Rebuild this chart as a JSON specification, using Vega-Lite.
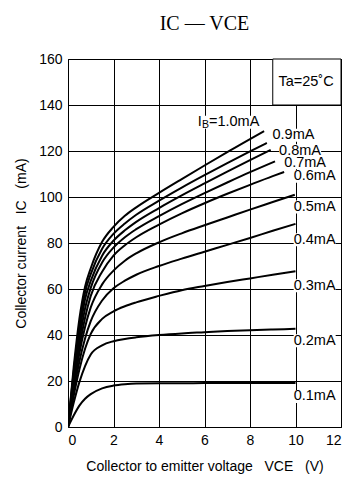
{
  "$schema": "https://vega.github.io/schema/vega-lite/v6.json",
  "width": 273,
  "height": 368,
  "autosize": {"type": "none"},
  "padding": {"left": 68, "top": 59, "right": 12, "bottom": 53},
  "background": "white",
  "title": {
    "text": "IC — VCE",
    "font": "Liberation Serif",
    "fontSize": 20,
    "fontWeight": "normal",
    "color": "black",
    "anchor": "middle",
    "offset": 18
  },
  "config": {
    "view": {"stroke": "black", "strokeWidth": 1},
    "axis": {
      "grid": true,
      "gridColor": "black",
      "gridOpacity": 1,
      "gridWidth": 1,
      "domain": false,
      "ticks": false,
      "labelFont": "Liberation Sans",
      "labelFontSize": 14,
      "labelColor": "black",
      "labelPadding": 6,
      "titleFont": "Liberation Sans",
      "titleFontSize": 14,
      "titleFontWeight": "normal",
      "titleColor": "black"
    },
    "text": {"font": "Liberation Sans", "fontSize": 14.5, "color": "black"}
  },
  "datasets": {
    "curves": [
      {"ib": "1.0", "v": 0, "i": 0}, {"ib": "1.0", "v": 0.25, "i": 26}, {"ib": "1.0", "v": 0.5, "i": 47}, {"ib": "1.0", "v": 0.75, "i": 61}, {"ib": "1.0", "v": 1, "i": 69}, {"ib": "1.0", "v": 1.5, "i": 80.5}, {"ib": "1.0", "v": 2, "i": 87}, {"ib": "1.0", "v": 2.5, "i": 91.8}, {"ib": "1.0", "v": 3, "i": 95.5}, {"ib": "1.0", "v": 4, "i": 101.8}, {"ib": "1.0", "v": 5, "i": 107.8}, {"ib": "1.0", "v": 6, "i": 113.7}, {"ib": "1.0", "v": 7, "i": 119.5}, {"ib": "1.0", "v": 8, "i": 125.2}, {"ib": "1.0", "v": 8.62, "i": 128.6},
      {"ib": "0.9", "v": 0, "i": 0}, {"ib": "0.9", "v": 0.25, "i": 24}, {"ib": "0.9", "v": 0.5, "i": 43.5}, {"ib": "0.9", "v": 0.75, "i": 58.5}, {"ib": "0.9", "v": 1, "i": 66.5}, {"ib": "0.9", "v": 1.5, "i": 77.5}, {"ib": "0.9", "v": 2, "i": 84}, {"ib": "0.9", "v": 2.5, "i": 88.5}, {"ib": "0.9", "v": 3, "i": 92.3}, {"ib": "0.9", "v": 4, "i": 98.4}, {"ib": "0.9", "v": 5, "i": 104.1}, {"ib": "0.9", "v": 6, "i": 109.5}, {"ib": "0.9", "v": 7, "i": 114.7}, {"ib": "0.9", "v": 8, "i": 119.8}, {"ib": "0.9", "v": 8.74, "i": 123.5},
      {"ib": "0.8", "v": 0, "i": 0}, {"ib": "0.8", "v": 0.25, "i": 22}, {"ib": "0.8", "v": 0.5, "i": 40.5}, {"ib": "0.8", "v": 0.75, "i": 55.5}, {"ib": "0.8", "v": 1, "i": 63.5}, {"ib": "0.8", "v": 1.5, "i": 74.5}, {"ib": "0.8", "v": 2, "i": 81}, {"ib": "0.8", "v": 2.5, "i": 85.5}, {"ib": "0.8", "v": 3, "i": 89.2}, {"ib": "0.8", "v": 4, "i": 95.2}, {"ib": "0.8", "v": 5, "i": 100.7}, {"ib": "0.8", "v": 6, "i": 105.9}, {"ib": "0.8", "v": 7, "i": 111}, {"ib": "0.8", "v": 8, "i": 116}, {"ib": "0.8", "v": 8.91, "i": 120.5},
      {"ib": "0.7", "v": 0, "i": 0}, {"ib": "0.7", "v": 0.25, "i": 20}, {"ib": "0.7", "v": 0.5, "i": 37.5}, {"ib": "0.7", "v": 0.75, "i": 51.5}, {"ib": "0.7", "v": 1, "i": 60.5}, {"ib": "0.7", "v": 1.5, "i": 71.5}, {"ib": "0.7", "v": 2, "i": 78}, {"ib": "0.7", "v": 2.5, "i": 82.5}, {"ib": "0.7", "v": 3, "i": 86}, {"ib": "0.7", "v": 4, "i": 91.7}, {"ib": "0.7", "v": 5, "i": 96.9}, {"ib": "0.7", "v": 6, "i": 101.7}, {"ib": "0.7", "v": 7, "i": 106.3}, {"ib": "0.7", "v": 8, "i": 110.8}, {"ib": "0.7", "v": 9.1, "i": 115.5},
      {"ib": "0.6", "v": 0, "i": 0}, {"ib": "0.6", "v": 0.25, "i": 18.5}, {"ib": "0.6", "v": 0.5, "i": 34.5}, {"ib": "0.6", "v": 0.75, "i": 47.5}, {"ib": "0.6", "v": 1, "i": 57}, {"ib": "0.6", "v": 1.5, "i": 67.5}, {"ib": "0.6", "v": 2, "i": 74.5}, {"ib": "0.6", "v": 2.5, "i": 79}, {"ib": "0.6", "v": 3, "i": 82.5}, {"ib": "0.6", "v": 4, "i": 88}, {"ib": "0.6", "v": 5, "i": 92.9}, {"ib": "0.6", "v": 6, "i": 97.3}, {"ib": "0.6", "v": 7, "i": 101.4}, {"ib": "0.6", "v": 8, "i": 105.3}, {"ib": "0.6", "v": 9, "i": 109.1}, {"ib": "0.6", "v": 9.5, "i": 110.9},
      {"ib": "0.5", "v": 0, "i": 0}, {"ib": "0.5", "v": 0.25, "i": 17}, {"ib": "0.5", "v": 0.5, "i": 32}, {"ib": "0.5", "v": 0.75, "i": 43.5}, {"ib": "0.5", "v": 1, "i": 52}, {"ib": "0.5", "v": 1.5, "i": 62}, {"ib": "0.5", "v": 2, "i": 68}, {"ib": "0.5", "v": 2.5, "i": 72.3}, {"ib": "0.5", "v": 3, "i": 75.5}, {"ib": "0.5", "v": 4, "i": 80.3}, {"ib": "0.5", "v": 5, "i": 84.2}, {"ib": "0.5", "v": 6, "i": 87.7}, {"ib": "0.5", "v": 7, "i": 91.1}, {"ib": "0.5", "v": 8, "i": 94.5}, {"ib": "0.5", "v": 9, "i": 97.8}, {"ib": "0.5", "v": 9.97, "i": 101},
      {"ib": "0.4", "v": 0, "i": 0}, {"ib": "0.4", "v": 0.25, "i": 15.5}, {"ib": "0.4", "v": 0.5, "i": 28.5}, {"ib": "0.4", "v": 0.75, "i": 38.5}, {"ib": "0.4", "v": 1, "i": 46}, {"ib": "0.4", "v": 1.5, "i": 55}, {"ib": "0.4", "v": 2, "i": 60.3}, {"ib": "0.4", "v": 2.5, "i": 63.6}, {"ib": "0.4", "v": 3, "i": 66.2}, {"ib": "0.4", "v": 4, "i": 70}, {"ib": "0.4", "v": 5, "i": 73.2}, {"ib": "0.4", "v": 6, "i": 76.2}, {"ib": "0.4", "v": 7, "i": 79.2}, {"ib": "0.4", "v": 8, "i": 82.2}, {"ib": "0.4", "v": 9, "i": 85.3}, {"ib": "0.4", "v": 10, "i": 88.3},
      {"ib": "0.3", "v": 0, "i": 0}, {"ib": "0.3", "v": 0.25, "i": 13.5}, {"ib": "0.3", "v": 0.5, "i": 25}, {"ib": "0.3", "v": 0.75, "i": 34}, {"ib": "0.3", "v": 1, "i": 40.5}, {"ib": "0.3", "v": 1.5, "i": 47}, {"ib": "0.3", "v": 2, "i": 50.3}, {"ib": "0.3", "v": 2.5, "i": 52.5}, {"ib": "0.3", "v": 3, "i": 54.2}, {"ib": "0.3", "v": 4, "i": 57}, {"ib": "0.3", "v": 5, "i": 59.5}, {"ib": "0.3", "v": 6, "i": 61.3}, {"ib": "0.3", "v": 7, "i": 63}, {"ib": "0.3", "v": 8, "i": 64.6}, {"ib": "0.3", "v": 9, "i": 66.2}, {"ib": "0.3", "v": 10, "i": 67.7},
      {"ib": "0.2", "v": 0, "i": 0}, {"ib": "0.2", "v": 0.25, "i": 10.5}, {"ib": "0.2", "v": 0.5, "i": 19.5}, {"ib": "0.2", "v": 0.75, "i": 26.5}, {"ib": "0.2", "v": 1, "i": 31.5}, {"ib": "0.2", "v": 1.5, "i": 35.5}, {"ib": "0.2", "v": 2, "i": 37.3}, {"ib": "0.2", "v": 2.5, "i": 38.3}, {"ib": "0.2", "v": 3, "i": 39}, {"ib": "0.2", "v": 4, "i": 40}, {"ib": "0.2", "v": 5, "i": 40.7}, {"ib": "0.2", "v": 6, "i": 41.2}, {"ib": "0.2", "v": 7, "i": 41.7}, {"ib": "0.2", "v": 8, "i": 42.1}, {"ib": "0.2", "v": 9, "i": 42.4}, {"ib": "0.2", "v": 10, "i": 42.7},
      {"ib": "0.1", "v": 0, "i": 0}, {"ib": "0.1", "v": 0.25, "i": 5}, {"ib": "0.1", "v": 0.5, "i": 9.3}, {"ib": "0.1", "v": 0.75, "i": 12.3}, {"ib": "0.1", "v": 1, "i": 14.3}, {"ib": "0.1", "v": 1.5, "i": 16.8}, {"ib": "0.1", "v": 2, "i": 18}, {"ib": "0.1", "v": 2.5, "i": 18.6}, {"ib": "0.1", "v": 3, "i": 18.9}, {"ib": "0.1", "v": 4, "i": 19}, {"ib": "0.1", "v": 5, "i": 19}, {"ib": "0.1", "v": 6, "i": 19.1}, {"ib": "0.1", "v": 8, "i": 19.1}, {"ib": "0.1", "v": 10, "i": 19.1}
    ],
    "labels": [
      {"label": "0.9mA", "v": 8.99, "i": 126.8},
      {"label": "0.8mA", "v": 9.28, "i": 120.1},
      {"label": "0.7mA", "v": 9.5, "i": 115},
      {"label": "0.6mA", "v": 9.92, "i": 109},
      {"label": "0.5mA", "v": 9.92, "i": 95.6},
      {"label": "0.4mA", "v": 9.92, "i": 81.4},
      {"label": "0.3mA", "v": 9.92, "i": 61.4},
      {"label": "0.2mA", "v": 9.92, "i": 37.5},
      {"label": "0.1mA", "v": 9.92, "i": 13.3}
    ],
    "ibLabel": [{"v": 5.7, "i": 132.5}]
  },
  "layer": [
    {
      "data": {"name": "curves"},
      "mark": {"type": "line", "color": "black", "strokeWidth": 2, "interpolate": "monotone", "clip": true},
      "encoding": {
        "x": {
          "field": "v", "type": "quantitative",
          "scale": {"domain": [0, 12], "nice": false},
          "axis": {
            "values": [0, 1, 2, 3, 4, 5, 6, 7, 8, 9, 10, 11, 12],
            "labelExpr": "datum.value % 2 === 0 ? datum.label : ''",
            "title": "Collector to emitter voltage\u00a0\u00a0\u00a0VCE\u00a0\u00a0\u00a0(V)",
            "titlePadding": 12
          }
        },
        "y": {
          "field": "i", "type": "quantitative",
          "scale": {"domain": [0, 160], "nice": false},
          "axis": {
            "values": [0, 20, 40, 60, 80, 100, 120, 140, 160],
            "title": "Collector current\u00a0\u00a0\u00a0IC\u00a0\u00a0\u00a0(mA)",
            "titlePadding": 10
          }
        },
        "detail": {"field": "ib"}
      }
    },
    {
      "data": {"values": [{}]},
      "mark": {"type": "rect", "fill": "white", "stroke": "black", "strokeWidth": 1},
      "encoding": {
        "x": {"datum": 9, "type": "quantitative"},
        "x2": {"datum": 12},
        "y": {"datum": 140, "type": "quantitative"},
        "y2": {"datum": 160}
      }
    },
    {
      "data": {"values": [{}]},
      "mark": {"type": "text", "text": "Ta=25˚C", "align": "left", "baseline": "middle"},
      "encoding": {
        "x": {"datum": 9.25, "type": "quantitative"},
        "y": {"datum": 150, "type": "quantitative"}
      }
    },
    {
      "data": {"name": "labels"},
      "mark": {"type": "rect", "fill": "white", "width": 42, "height": 13, "xOffset": 21},
      "encoding": {
        "x": {"field": "v", "type": "quantitative"},
        "y": {"field": "i", "type": "quantitative"}
      }
    },
    {
      "data": {"name": "ibLabel"},
      "mark": {"type": "rect", "fill": "white", "width": 64, "height": 13, "xOffset": 32},
      "encoding": {
        "x": {"field": "v", "type": "quantitative"},
        "y": {"field": "i", "type": "quantitative"}
      }
    },
    {
      "data": {"name": "labels"},
      "mark": {"type": "text", "align": "left", "baseline": "middle"},
      "encoding": {
        "x": {"field": "v", "type": "quantitative"},
        "y": {"field": "i", "type": "quantitative"},
        "text": {"field": "label"}
      }
    },
    {
      "data": {"name": "ibLabel"},
      "mark": {"type": "text", "text": "I", "align": "left", "baseline": "middle"},
      "encoding": {
        "x": {"field": "v", "type": "quantitative"},
        "y": {"field": "i", "type": "quantitative"}
      }
    },
    {
      "data": {"name": "ibLabel"},
      "mark": {"type": "text", "text": "B", "align": "left", "baseline": "middle", "fontSize": 10.5, "dx": 4.3, "dy": 3},
      "encoding": {
        "x": {"field": "v", "type": "quantitative"},
        "y": {"field": "i", "type": "quantitative"}
      }
    },
    {
      "data": {"name": "ibLabel"},
      "mark": {"type": "text", "text": "=1.0mA", "align": "left", "baseline": "middle", "dx": 11.3},
      "encoding": {
        "x": {"field": "v", "type": "quantitative"},
        "y": {"field": "i", "type": "quantitative"}
      }
    }
  ]
}
